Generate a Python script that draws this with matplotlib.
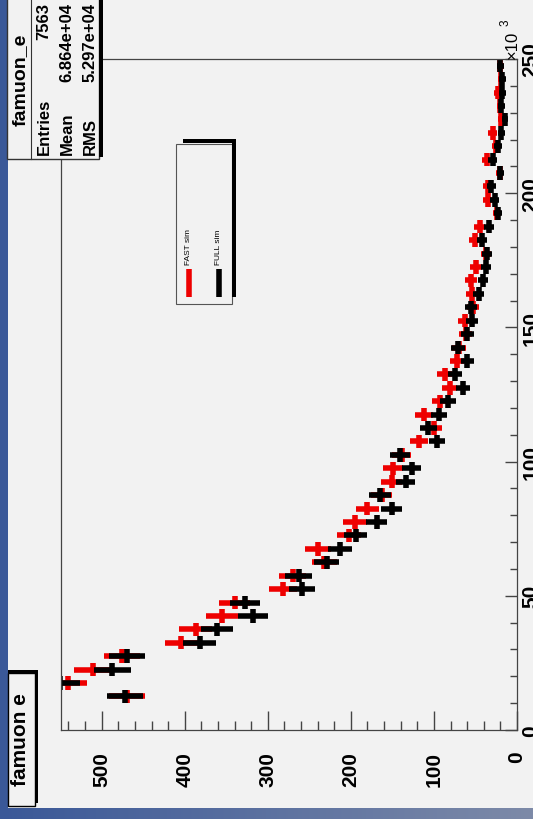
import numpy as np
import matplotlib
matplotlib.use('Agg')
import matplotlib.pyplot as plt
from matplotlib.patches import Rectangle
from matplotlib.colors import LinearSegmentedColormap
from matplotlib.ticker import MultipleLocator

# famuon_e histograms, bin centres in units of 10^3
energy = [12.5, 17.5, 22.5, 27.5, 32.5, 37.5, 42.5, 47.5, 52.5, 57.5,
          62.5, 67.5, 72.5, 77.5, 82.5, 87.5, 92.5, 97.5, 102.5, 107.5,
          112.5, 117.5, 122.5, 127.5, 132.5, 137.5, 142.5, 147.5, 152.5, 157.5,
          162.5, 167.5, 172.5, 177.5, 182.5, 187.5, 192.5, 197.5, 202.5, 207.5,
          212.5, 217.5, 222.5, 227.5, 232.5, 237.5, 242.5, 247.5]
full_sim = [472, 550, 487, 469, 382, 361, 318, 328, 259, 263,
            229, 213, 194, 169, 151, 165, 134, 127, 141, 96,
            107, 94, 83, 65, 75, 60, 71, 60, 54, 55,
            46, 41, 37, 36, 42, 34, 23, 27, 31, 20,
            29, 23, 19, 14, 19, 18, 18, 20]
fast_sim = [469, 541, 511, 476, 404, 387, 355, 340, 282, 270,
            232, 240, 202, 195, 180, 163, 151, 149, 139, 118,
            100, 112, 93, 81, 87, 72, 70, 62, 63, 53,
            54, 55, 49, 37, 51, 45, 24, 35, 35, 21,
            36, 25, 29, 19, 20, 23, 19, 20]
bin_half = 2.5

stats_names = ['Entries', 'Mean', 'RMS']
stats_values = ['7563', '6.864e+04', '5.297e+04']
legend_labels = ['FAST sim', 'FULL sim']

W, H = 533, 820
PAD = '#f2f2f2'
BLUE = '#3a5898'
FONT = 'Liberation Sans'

plt.rcParams['font.family'] = [FONT, 'DejaVu Sans']

fig = plt.figure(figsize=(W / 100, H / 100), dpi=100, facecolor=PAD)

# main frame (the whole ROOT canvas is turned by 90 degrees)
x0, x1, y0, y1 = 61, 517, 60, 731
ax = fig.add_axes([x0 / W, 1 - y1 / H, (x1 - x0) / W, (y1 - y0) / H])
ax.set_facecolor(PAD)
ax.set_xlim(549, 0)
ax.set_ylim(0, 250)

ax.errorbar(fast_sim, energy, xerr=np.sqrt(fast_sim), yerr=bin_half,
            fmt='none', ecolor='#ee0000', elinewidth=4, capsize=0)
ax.errorbar(full_sim, energy, xerr=np.sqrt(full_sim), yerr=bin_half,
            fmt='none', ecolor='black', elinewidth=4, capsize=0)

for s in ax.spines.values():
    s.set_color('#444444')
    s.set_linewidth(0.9)

ax.yaxis.tick_right()
ax.xaxis.set_major_locator(MultipleLocator(100))
ax.xaxis.set_minor_locator(MultipleLocator(20))
ax.yaxis.set_major_locator(MultipleLocator(50))
ax.yaxis.set_minor_locator(MultipleLocator(10))
ax.tick_params(axis='x', which='major', direction='in', length=14, width=1,
               color='#444444', pad=15, labelrotation=90, labelsize=15)
ax.tick_params(axis='x', which='minor', direction='in', length=6.5, width=1,
               color='#444444')
ax.tick_params(axis='y', which='major', direction='in', length=8.5, width=1,
               color='#444444', pad=3, labelrotation=90, labelsize=15)
ax.tick_params(axis='y', which='minor', direction='in', length=5, width=1,
               color='#444444')
for lab in ax.get_xticklabels():
    lab.set_fontweight('bold')
for lab in ax.get_yticklabels():
    lab.set_fontweight('bold')
    lab.set_va('center')

# overlay in pixel coordinates for boxes and text
ov = fig.add_axes([0, 0, 1, 1], zorder=5)
ov.set_xlim(0, W)
ov.set_ylim(H, 0)
ov.axis('off')
ov.patch.set_alpha(0)

# slide background around the canvas
ov.add_patch(Rectangle((0, 0), 7.5, H, color=BLUE, lw=0))
grad = LinearSegmentedColormap.from_list('bg', [BLUE, '#7d8aa8'])
ov.imshow(np.linspace(0, 1, 256).reshape(1, -1), cmap=grad, aspect='auto',
          extent=(0, W, H, 809), zorder=1)
ov.set_xlim(0, W)
ov.set_ylim(H, 0)

# x10^3 label
ov.text(512, 59, '×10', rotation=90, ha='center', va='bottom',
        fontsize=12, color='black')
ov.text(506, 26, '3', rotation=90, ha='center', va='bottom',
        fontsize=8.5, color='black')

# stats box
ov.add_patch(Rectangle((7, -5), 92, 165, facecolor=PAD, edgecolor='#333333', lw=1, zorder=3))
ov.add_patch(Rectangle((99, -5), 3.5, 163, color='black', lw=0, zorder=3))
ov.plot([31, 31], [-5, 160], color='#333333', lw=0.8, zorder=4)
ov.text(20, 80, 'famuon_e', rotation=90, ha='center', va='center',
        fontsize=14, fontweight='bold', zorder=4)
for xc, name, val in zip([44, 67, 90], stats_names, stats_values):
    ov.text(xc, 155, name, rotation=90, ha='center', va='bottom',
            fontsize=12, fontweight='bold', zorder=4)
    ov.text(xc, 3, val, rotation=90, ha='center', va='top',
            fontsize=12, fontweight='bold', zorder=4)

# title box
ov.add_patch(Rectangle((7.5, 674), 27.5, 133, facecolor=PAD, edgecolor='black', lw=1, zorder=3))
ov.add_patch(Rectangle((35, 671), 3, 133, color='black', lw=0, zorder=3))
ov.add_patch(Rectangle((7.5, 671), 30, 3, color='black', lw=0, zorder=3))
ov.text(21, 740, 'famuon e', rotation=90, ha='center', va='center',
        fontsize=15, fontweight='bold', zorder=4)

# legend
ov.add_patch(Rectangle((176, 145), 56, 160, facecolor=PAD, edgecolor='#555555', lw=0.8, zorder=3))
ov.add_patch(Rectangle((232, 140), 4, 158, color='black', lw=0, zorder=3))
ov.add_patch(Rectangle((183, 140), 53, 4, color='black', lw=0, zorder=3))
for xc, lab, col in zip([189, 219], legend_labels, ['#ee0000', 'black']):
    ov.plot([xc, xc], [270, 298], color=col, lw=4, solid_capstyle='butt', zorder=4)
    ov.text(xc, 265, lab, rotation=90, ha='center', va='bottom',
            fontsize=6, zorder=4)

fig.savefig('out.png', dpi=100, facecolor=PAD)
